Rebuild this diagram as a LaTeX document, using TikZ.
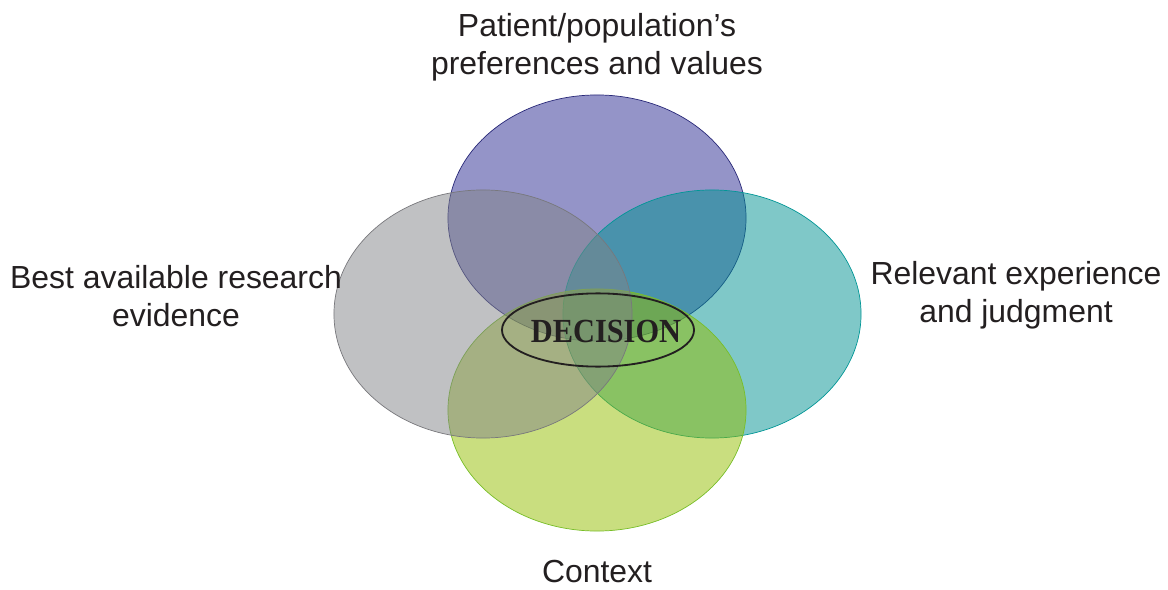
\documentclass[tikz,border=0pt]{standalone}
\usepackage{fontspec}
\setmainfont{Liberation Sans}
\newfontfamily\decisionfont[FakeStretch=0.9]{Liberation Serif}
\RequirePackage{xcolor}
\definecolor{EBMpurple}{RGB}{41,41,145}
\definecolor{EBMpurpleline}{RGB}{40,40,120}
\definecolor{EBMgrey}{RGB}{129,131,135}
\definecolor{EBMgreyline}{RGB}{120,120,124}
\definecolor{EBMteal}{RGB}{0,145,145}
\definecolor{EBMtealline}{RGB}{0,150,150}
\definecolor{EBMgreen}{RGB}{147,189,0}
\definecolor{EBMgreenline}{RGB}{120,190,40}
\definecolor{EBMtext}{HTML}{231F20}

\tikzset{
  circle area/.style={line width=0.5pt, fill opacity=0.5},
  area label/.style={text=EBMtext, align=center, inner sep=0pt,
    font=\fontsize{22.7}{26.7}\selectfont}
}

\begin{document}
\begin{tikzpicture}[x=0.025cm,y=-0.025cm]
\useasboundingbox (0,0) rectangle (1168,590);

% Overlapping areas
\filldraw[circle area, fill=EBMpurple, draw=EBMpurpleline] (597,218) ellipse [x radius=3.725cm, y radius=3.075cm];
\filldraw[circle area, fill=EBMteal, draw=EBMtealline] (712,314) ellipse [x radius=3.725cm, y radius=3.1cm];
\filldraw[circle area, fill=EBMgreen, draw=EBMgreenline] (597,410) ellipse [x radius=3.725cm, y radius=3.025cm];
\filldraw[circle area, fill=EBMgrey, draw=EBMgreyline] (483,314) ellipse [x radius=3.725cm, y radius=3.1cm];

% Centre
\node[inner sep=0pt, text=EBMtext, font=\decisionfont\bfseries\fontsize{24}{26}\selectfont]
  (decision) at (606,331) {DECISION};
\draw[EBMtext, line width=1.3pt] (598,330) ellipse [x radius=2.4cm, y radius=0.915cm];

% Labels
\node[area label] (values) at (597,47) {Patient/population's\\preferences and values};
\node[area label] (evidence) at (176,296) {Best available research\\evidence};
\node[area label] (experience) at (1016,295.5) {Relevant experience\\and judgment};
\node[area label] (context) at (597,572) {Context};

\end{tikzpicture}
\end{document}
